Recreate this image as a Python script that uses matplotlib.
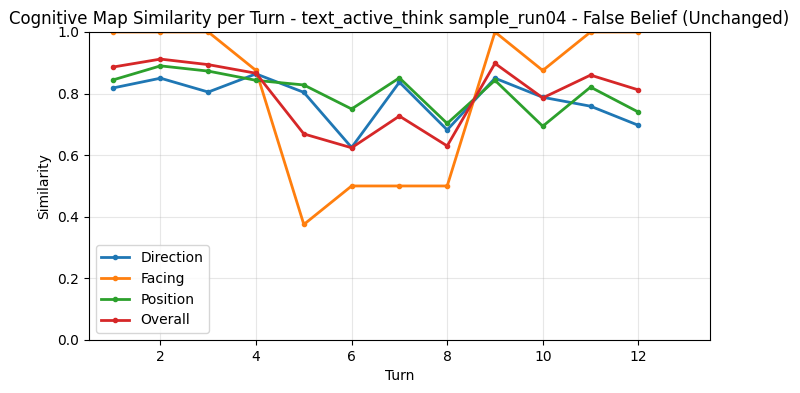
import matplotlib
matplotlib.use('Agg')
import matplotlib.pyplot as plt

turns = [1, 2, 3, 4, 5, 6, 7, 8, 9, 10, 11, 12]
direction = [0.818, 0.850, 0.805, 0.864, 0.804, 0.625, 0.837, 0.682, 0.850, 0.788, 0.759, 0.697]
facing = [1.0, 1.0, 1.0, 0.875, 0.375, 0.5, 0.5, 0.5, 1.0, 0.875, 1.0, 1.0]
position = [0.844, 0.890, 0.873, 0.843, 0.828, 0.750, 0.851, 0.703, 0.843, 0.694, 0.821, 0.740]
overall = [0.886, 0.912, 0.894, 0.866, 0.669, 0.624, 0.727, 0.630, 0.898, 0.786, 0.860, 0.812]

fig, ax = plt.subplots(figsize=(8, 3.93), dpi=100)
ax.plot(turns, direction, marker='o', markersize=3, linewidth=2, label='Direction')
ax.plot(turns, facing, marker='o', markersize=3, linewidth=2, label='Facing')
ax.plot(turns, position, marker='o', markersize=3, linewidth=2, label='Position')
ax.plot(turns, overall, marker='o', markersize=3, linewidth=2, label='Overall')

ax.set_xlim(0.5, 13.5)
ax.set_ylim(0, 1.0)
ax.set_xlabel('Turn')
ax.set_ylabel('Similarity')
ax.set_title('Cognitive Map Similarity per Turn - text_active_think sample_run04 - False Belief (Unchanged)')
ax.grid(True, alpha=0.3)
ax.legend(loc='lower left')

fig.subplots_adjust(left=0.111, right=0.8875, top=0.9186, bottom=0.135)
plt.savefig('out.png', dpi=100)
